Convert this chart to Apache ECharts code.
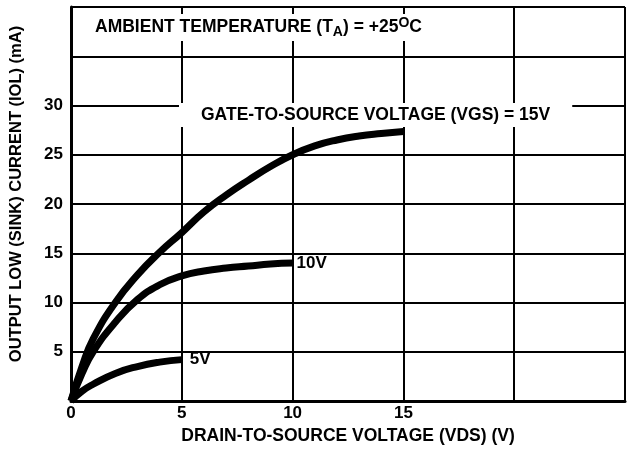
<!DOCTYPE html>
<html>
<head>
<meta charset="utf-8">
<script src="https://cdn.jsdelivr.net/npm/echarts@6/dist/echarts.min.js"></script>
<style>
  html, body { margin: 0; padding: 0; background: #fff; }
  #chart { width: 628px; height: 451px; }
</style>
</head>
<body>
<div id="chart"></div>
<script>
// drain-to-source voltage (V) sample points, one list per curve
var vds15 = [0, 0.5, 1, 2, 3, 4, 5, 6, 7, 8, 9, 10, 11, 12, 13, 14, 15];
var iol15 = [0, 3.5, 6.3, 10.0, 12.8, 15.1, 17.1, 19.2, 20.9, 22.4, 23.8, 25.0, 25.9, 26.5, 26.9, 27.15, 27.35];
var vds10 = [0, 0.5, 1, 2, 3, 4, 5, 6, 7, 8, 9, 10];
var iol10 = [0, 2.8, 5.0, 8.0, 10.3, 11.8, 12.7, 13.2, 13.5, 13.7, 13.9, 14.0];
var vds5 = [0, 0.5, 1, 2, 3, 4, 5];
var iol5 = [0, 1.0, 1.7, 2.8, 3.5, 3.95, 4.2];

var xTickLabels = [0, 5, 10, 15];
var yTickLabels = [5, 10, 15, 20, 25, 30];

var FONT = '"Liberation Sans", Arial, Helvetica, sans-serif';

function pairs(xs, ys) {
    var out = [];
    for (var i = 0; i < xs.length; i++) out.push([xs[i], ys[i]]);
    return out;
}

function curve(name, xs, ys, label, dist) {
    return {
        name: name,
        type: 'line',
        data: pairs(xs, ys),
        smooth: 0.5,
        showSymbol: false,
        symbol: 'none',
        silent: true,
        lineStyle: { color: '#000', width: 7, cap: 'butt' },
        endLabel: label ? {
            show: true,
            formatter: label,
            distance: dist,
            color: '#000',
            fontFamily: FONT,
            fontWeight: 'bold',
            fontSize: 17
        } : { show: false },
        z: 3
    };
}

var myChart = echarts.init(document.getElementById('chart'));
var option = {
    animation: false,
    backgroundColor: '#fff',
    grid: { left: 70, right: -1, top: 7, bottom: 50 },
    xAxis: {
        type: 'value',
        min: 0,
        max: 25,
        interval: 5,
        name: 'DRAIN-TO-SOURCE VOLTAGE (VDS) (V)',
        nameLocation: 'middle',
        nameGap: 23,
        nameTextStyle: { color: '#000', fontFamily: FONT, fontWeight: 'bold', fontSize: 17.5 },
        axisLine: { show: true, lineStyle: { color: '#000', width: 3 } },
        axisTick: { show: false },
        splitLine: { show: true, lineStyle: { color: '#000', width: 2 } },
        axisLabel: {
            margin: 4,
            color: '#000',
            fontFamily: FONT,
            fontWeight: 'bold',
            fontSize: 17,
            formatter: function (v) { return xTickLabels.indexOf(v) >= 0 ? String(v) : ''; }
        }
    },
    yAxis: {
        type: 'value',
        min: 0,
        max: 40,
        interval: 5,
        name: 'OUTPUT LOW (SINK) CURRENT (IOL) (mA)',
        nameLocation: 'middle',
        nameGap: 46,
        nameTextStyle: { color: '#000', fontFamily: FONT, fontWeight: 'bold', fontSize: 16.5, padding: [0, 0, 0, 20] },
        axisLine: { show: true, lineStyle: { color: '#000', width: 3 } },
        axisTick: { show: false },
        splitLine: { show: true, lineStyle: { color: '#000', width: 2 } },
        axisLabel: {
            margin: 8,
            color: '#000',
            fontFamily: FONT,
            fontWeight: 'bold',
            fontSize: 17,
            formatter: function (v) { return yTickLabels.indexOf(v) >= 0 ? String(v) : ''; }
        }
    },
    series: [
        curve('15V', vds15, iol15, null, 0),
        curve('10V', vds10, iol10, '10V', 4),
        curve('5V', vds5, iol5, '5V', 8)
    ],
    graphic: [
        {
            type: 'text',
            left: 89,
            top: 14,
            z: 100,
            silent: true,
            style: {
                text: '{n|AMBIENT TEMPERATURE (T}{sub|A}{n|) = +25}{sup|O}{n|C}',
                backgroundColor: '#fff',
                padding: [2, 6, 2, 6],
                rich: {
                    n: { fontFamily: FONT, fontWeight: 'bold', fontSize: 17.5, fill: '#000', lineHeight: 23, verticalAlign: 'middle' },
                    sub: { fontFamily: FONT, fontWeight: 'bold', fontSize: 14, fill: '#000', lineHeight: 23, verticalAlign: 'bottom' },
                    sup: { fontFamily: FONT, fontWeight: 'bold', fontSize: 14, fill: '#000', lineHeight: 23, verticalAlign: 'top' }
                }
            }
        },
        {
            type: 'text',
            left: 179,
            top: 103,
            z: 100,
            silent: true,
            style: {
                text: 'GATE-TO-SOURCE VOLTAGE (VGS) = 15V',
                fontFamily: FONT,
                fontWeight: 'bold',
                fontSize: 17.5,
                fill: '#000',
                backgroundColor: '#fff',
                padding: [3, 22, 3, 22]
            }
        }
    ]
};
myChart.setOption(option);
</script>
</body>
</html>
